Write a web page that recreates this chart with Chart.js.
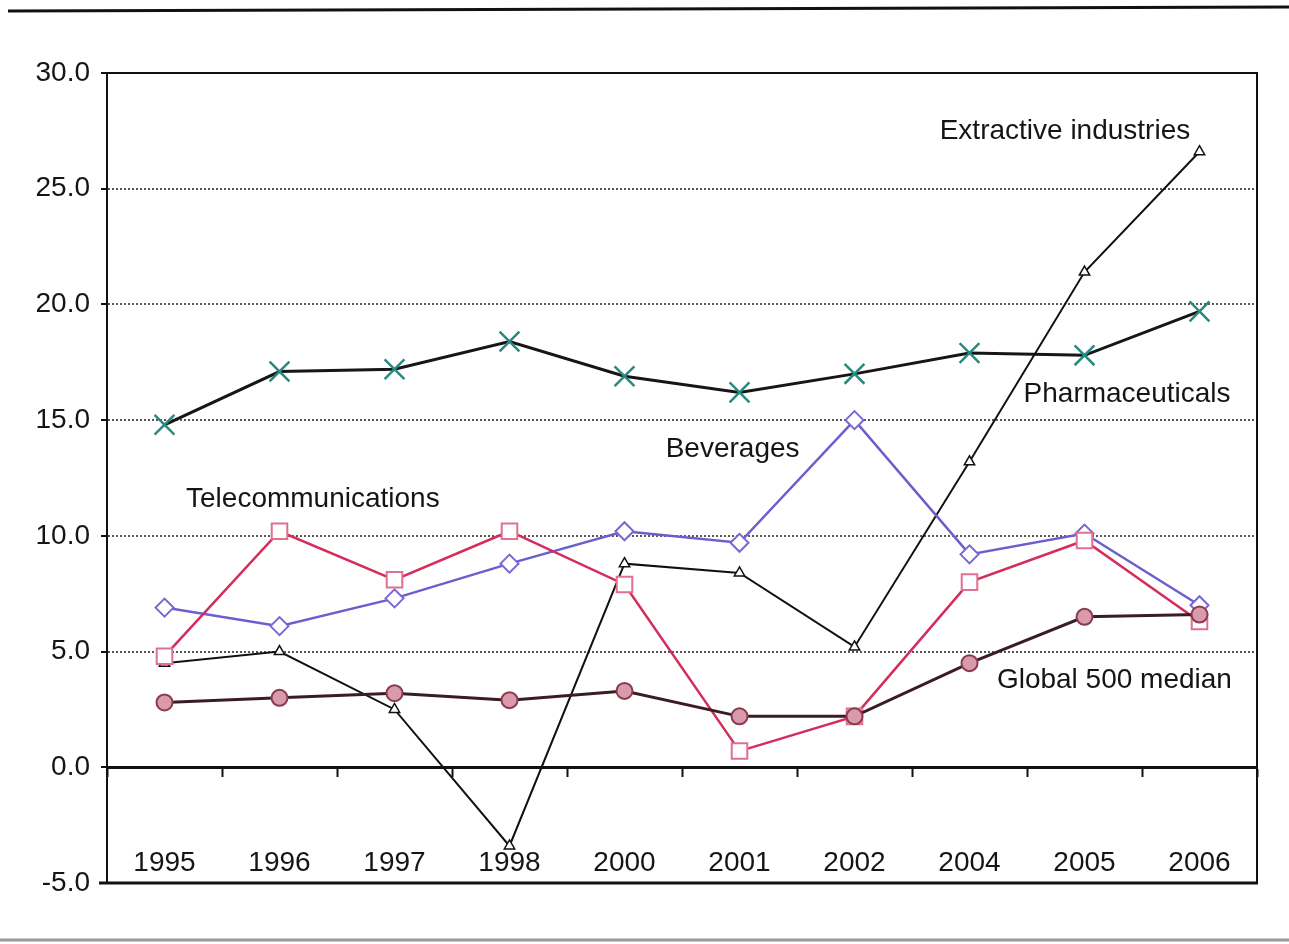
<!DOCTYPE html>
<html>
<head>
<meta charset="utf-8">
<script src="https://cdn.jsdelivr.net/npm/chart.js@4/dist/chart.umd.min.js"></script>
<style>
  html, body { margin: 0; padding: 0; background: #fff; }
  #wrap { width: 1289px; height: 944px; }
</style>
</head>
<body>
<div id="wrap"><canvas id="chart" width="1289" height="944"></canvas></div>
<script>
const years = ['1995', '1996', '1997', '1998', '2000', '2001', '2002', '2004', '2005', '2006'];
const pharmaceuticals = [14.8, 17.1, 17.2, 18.4, 16.9, 16.2, 17.0, 17.9, 17.8, 19.7];
const extractive = [4.5, 5.0, 2.5, -3.4, 8.8, 8.4, 5.2, 13.2, 21.4, 26.6];
const beverages = [6.9, 6.1, 7.3, 8.8, 10.2, 9.7, 15.0, 9.2, 10.1, 7.0];
const telecoms = [4.8, 10.2, 8.1, 10.2, 7.9, 0.7, 2.2, 8.0, 9.8, 6.3];
const globalMedian = [2.8, 3.0, 3.2, 2.9, 3.3, 2.2, 2.2, 4.5, 6.5, 6.6];
const yTicks = [-5, 0, 5, 10, 15, 20, 25, 30];

const FONT = '"Liberation Sans", Arial, sans-serif';

// text labels next to the lines, anchored in data coordinates (category index, value)
const seriesLabels = [
    {text: 'Extractive industries', x: 7.83, y: 27.5},
    {text: 'Pharmaceuticals', x: 8.37, y: 16.1},
    {text: 'Beverages', x: 4.94, y: 13.75},
    {text: 'Telecommunications', x: 1.29, y: 11.6},
    {text: 'Global 500 median', x: 8.26, y: 3.75}
];

const framePlugin = {
    id: 'frame',
    beforeDraw(chart) {
        const ctx = chart.ctx;
        ctx.save();
        ctx.fillStyle = '#fff';
        ctx.fillRect(0, 0, chart.width, chart.height);
        // page rules above and below the figure
        ctx.strokeStyle = '#111';
        ctx.lineWidth = 3;
        ctx.beginPath();
        ctx.moveTo(8, 11);
        ctx.lineTo(chart.width, 7);
        ctx.stroke();
        ctx.strokeStyle = '#9a9a9a';
        ctx.lineWidth = 3;
        ctx.beginPath();
        ctx.moveTo(0, 940);
        ctx.lineTo(chart.width, 940);
        ctx.stroke();
        ctx.restore();
    },
    afterDatasetsDraw(chart) {
        const ctx = chart.ctx;
        const area = chart.chartArea;
        ctx.save();
        ctx.strokeStyle = '#111';
        ctx.lineWidth = 2;
        ctx.beginPath();
        ctx.moveTo(area.left, area.top);
        ctx.lineTo(area.right, area.top);
        ctx.lineTo(area.right, area.bottom);
        ctx.stroke();
        ctx.lineWidth = 3;
        ctx.beginPath();
        ctx.moveTo(area.left - 8, area.bottom);
        ctx.lineTo(area.right + 1, area.bottom);
        ctx.stroke();

        const xs = chart.scales.x;
        const ys = chart.scales.y;
        ctx.fillStyle = '#151515';
        ctx.font = '28px ' + FONT;
        ctx.textAlign = 'center';
        ctx.textBaseline = 'middle';
        seriesLabels.forEach(l => {
            ctx.fillText(l.text, xs.getPixelForValue(l.x), ys.getPixelForValue(l.y));
        });
        ctx.restore();
    }
};

const context = document.getElementById('chart').getContext('2d');
new Chart(context, {
    type: 'line',
    data: {
        labels: years,
        datasets: [
            {
                label: 'Global 500 median',
                data: globalMedian,
                borderColor: '#3a1c24',
                borderWidth: 3,
                pointStyle: 'circle',
                pointRadius: 8,
                pointBackgroundColor: '#d99aaa',
                pointBorderColor: '#8a3a52',
                pointBorderWidth: 2
            },
            {
                label: 'Telecommunications',
                data: telecoms,
                borderColor: '#d42d5c',
                borderWidth: 2.5,
                pointStyle: 'rect',
                pointRadius: 11,
                pointBackgroundColor: '#fff',
                pointBorderColor: '#e0708f',
                pointBorderWidth: 2
            },
            {
                label: 'Beverages',
                data: beverages,
                borderColor: '#6a5fcc',
                borderWidth: 2.5,
                pointStyle: 'rectRot',
                pointRadius: 9,
                pointBackgroundColor: '#fff',
                pointBorderColor: '#7b66d2',
                pointBorderWidth: 2
            },
            {
                label: 'Extractive industries',
                data: extractive,
                borderColor: '#111',
                borderWidth: 2,
                pointStyle: 'triangle',
                pointRadius: 6,
                pointBackgroundColor: '#fff',
                pointBorderColor: '#111',
                pointBorderWidth: 1.5
            },
            {
                label: 'Pharmaceuticals',
                data: pharmaceuticals,
                borderColor: '#161616',
                borderWidth: 3,
                pointStyle: 'crossRot',
                pointRadius: 14,
                pointBorderColor: '#2a8a82',
                pointBorderWidth: 2.5
            }
        ]
    },
    options: {
        responsive: false,
        animation: false,
        layout: {padding: {top: 73, bottom: 61, right: 32, left: 0}},
        plugins: {
            legend: {display: false},
            tooltip: {enabled: false}
        },
        scales: {
            x: {
                type: 'category',
                offset: true,
                position: {y: 0},
                afterFit(scale) {
                    scale.paddingLeft = 0;
                    scale.paddingRight = 0;
                },
                grid: {
                    display: true,
                    offset: true,
                    drawOnChartArea: false,
                    drawTicks: true,
                    tickLength: 8,
                    tickColor: '#111',
                    tickWidth: 2
                },
                border: {display: true, color: '#111', width: 3},
                ticks: {
                    padding: 71,
                    color: '#151515',
                    font: {family: FONT, size: 28},
                    maxRotation: 0,
                    autoSkip: false
                }
            },
            y: {
                min: -5,
                max: 30,
                afterFit(scale) {
                    scale.width = 107;
                },
                afterBuildTicks(scale) {
                    scale.ticks = yTicks.map(v => ({value: v}));
                },
                grid: {
                    color: ctx => {
                        const v = ctx.tick ? ctx.tick.value : null;
                        return (v === -5 || v === 0 || v === 30) ? 'rgba(0,0,0,0)' : '#555';
                    },
                    lineWidth: 2,
                    tickColor: '#111',
                    tickLength: 6,
                    tickWidth: 2
                },
                border: {display: true, color: '#111', width: 2, dash: [2, 2]},
                ticks: {
                    padding: 11,
                    color: '#151515',
                    font: {family: FONT, size: 28},
                    callback: value => value.toFixed(1)
                }
            }
        }
    },
    plugins: [framePlugin]
});
</script>
</body>
</html>
